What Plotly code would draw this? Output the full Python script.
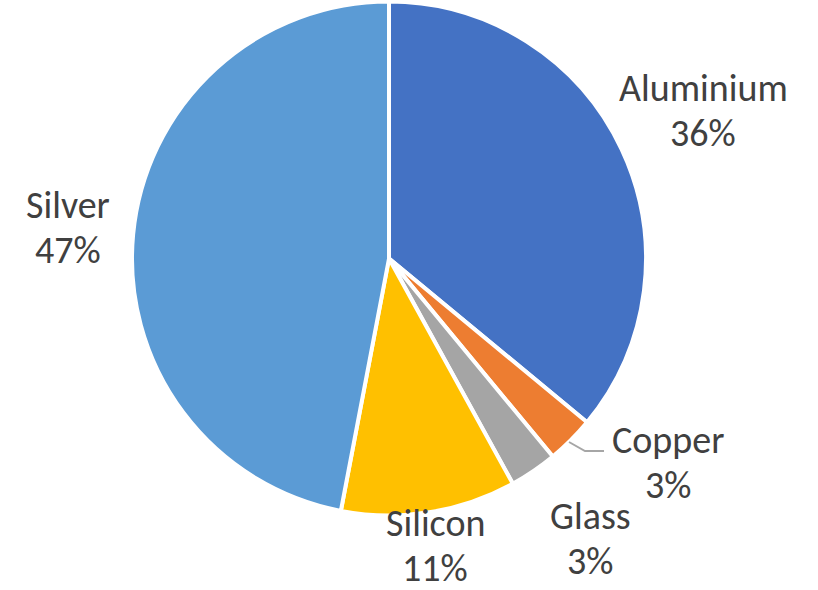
import plotly.graph_objects as go

# Material share by weight
materials = ["Aluminium", "Copper", "Glass", "Silicon", "Silver"]
shares = [36, 3, 3, 11, 47]
colors = ["#4472C4", "#ED7D31", "#A5A5A5", "#FFC000", "#5B9BD5"]

W, H = 818, 590

# Label anchor points (pixel centres of the name line; value line sits below)
label_pos = {
    "Aluminium": (703, 88),
    "Copper": (668, 440),
    "Glass": (590, 516),
    "Silicon": (435, 523),
    "Silver": (68, 205),
}
LINE_GAP = 45


def px(x):
    return x / W


def py(y):
    return 1 - y / H


fig = go.Figure(
    go.Pie(
        labels=materials,
        values=shares,
        sort=False,
        direction="clockwise",
        rotation=0,
        marker=dict(colors=colors, line=dict(color="white", width=4)),
        textinfo="none",
        hoverinfo="label+percent",
        domain=dict(x=[px(132), px(646)], y=[py(516), py(1)]),
        showlegend=False,
    )
)

font = dict(family="Carlito, Calibri, 'Open Sans', sans-serif", size=38, color="#404040")
for name, val in zip(materials, shares):
    x, y = label_pos[name]
    for text, yy in ((name, y), (f"{val}%", y + LINE_GAP)):
        fig.add_annotation(
            x=px(x), y=py(yy), xref="paper", yref="paper",
            text=text, showarrow=False, font=font,
            xanchor="center", yanchor="middle", align="center",
        )

# Leader line for the Copper label
fig.add_shape(
    type="path",
    path=f"M {px(569)} {py(442)} L {px(585)} {py(451)} L {px(604)} {py(451)}",
    xref="paper", yref="paper",
    line=dict(color="#A6A6A6", width=2),
)

fig.update_layout(
    width=W, height=H,
    margin=dict(l=0, r=0, t=0, b=0),
    paper_bgcolor="white",
    plot_bgcolor="white",
)

fig.write_html("out.html")
